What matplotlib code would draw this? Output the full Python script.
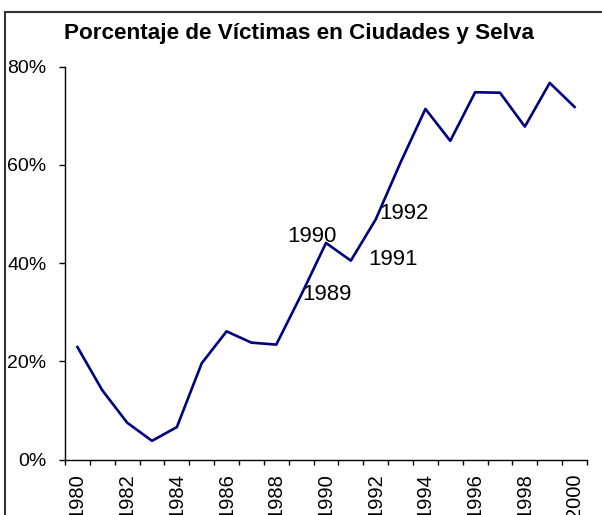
import numpy as np
import matplotlib.pyplot as plt
from matplotlib.lines import Line2D
from matplotlib.ticker import FixedLocator, PercentFormatter

plt.rcParams['font.family'] = ['Liberation Sans', 'DejaVu Sans']

# data
years = list(range(1980, 2001))
victimas = [22.9, 14.1, 7.5, 3.8, 6.6, 19.6, 26.1, 23.8, 23.4, 33.5,
            44.1, 40.5, 48.9, 60.5, 71.4, 64.9, 74.8, 74.7, 67.8, 76.7, 71.8]
label_years = [1989, 1990, 1991, 1992]
# label offsets in pixels from the point
label_offsets = [(26, 1), (-14, 6), (42, 1), (28, 6)]

fig = plt.figure(figsize=(6.02, 5.15), dpi=100)
ax = fig.add_axes([65 / 602, 1 - 459.5 / 515, (587 - 65) / 602, (459.5 - 66.7) / 515])

x = np.arange(len(years))
ax.plot(x, victimas, color='#000080', linewidth=1.9)

for yr, off in zip(label_years, label_offsets):
    i = years.index(yr)
    ax.annotate(str(yr), (x[i], victimas[i]), xytext=off, textcoords='offset pixels',
                ha='center', va='center', fontsize=16)

ax.set_xlim(-0.5, len(years) - 0.5)
ax.set_ylim(0, 80)

ax.set_yticks([0, 20, 40, 60, 80])
ax.yaxis.set_major_formatter(PercentFormatter(decimals=0))
ax.tick_params(axis='y', length=4.3, width=1, pad=9, labelsize=14)

ax.set_xticks(x[::2])
ax.set_xticklabels([str(y) for y in years[::2]], rotation=90)
ax.xaxis.set_minor_locator(FixedLocator(np.arange(-0.5, len(years), 1)))
ax.tick_params(axis='x', which='major', length=0, pad=10, labelsize=14.5)
ax.tick_params(axis='x', which='minor', length=3.8, width=1)

for s in ['top', 'right']:
    ax.spines[s].set_visible(False)
for s in ['left', 'bottom']:
    ax.spines[s].set_linewidth(1)

fig.text(0.496, 1 - 33 / 515, 'Porcentaje de Víctimas en Ciudades y Selva',
         ha='center', va='center', fontsize=16.2, fontweight='bold')

# chart border (only top and left visible)
fig.add_artist(Line2D([5 / 602, 5 / 602], [-0.1, 1 - 12 / 515], transform=fig.transFigure,
                      color='#333333', linewidth=1.5))
fig.add_artist(Line2D([5 / 602, 1.1], [1 - 12 / 515, 1 - 12 / 515], transform=fig.transFigure,
                      color='#333333', linewidth=1.5))

fig.savefig('out.png', dpi=100)
